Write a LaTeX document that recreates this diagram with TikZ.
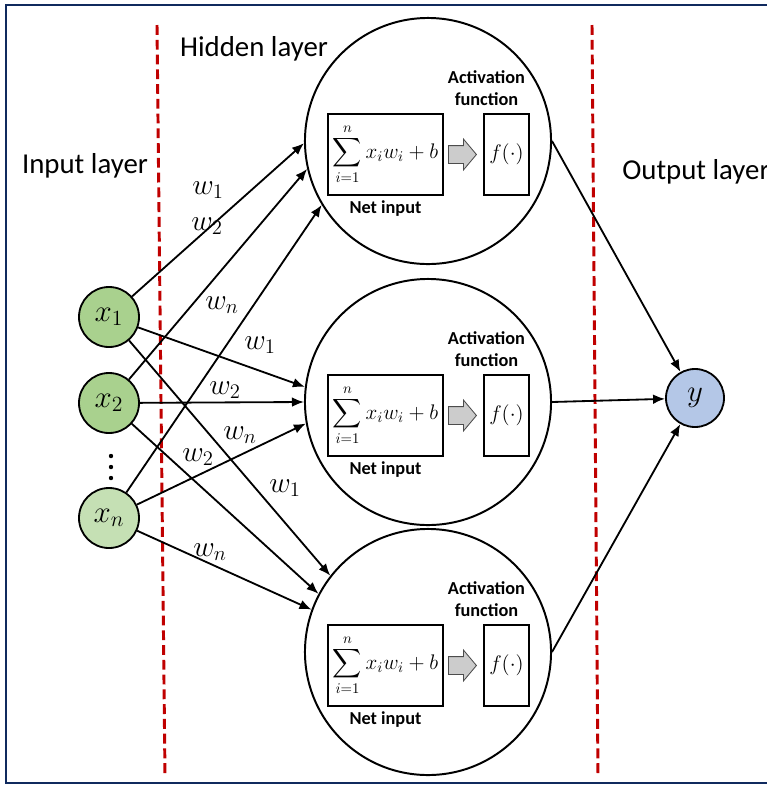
\RequirePackage{fix-cm}
\documentclass[tikz,border=0pt]{standalone}
\usepackage{amsmath}
\usepackage[no-math]{fontspec}
\setmainfont{Carlito}
\usetikzlibrary{positioning, arrows.meta, shapes.arrows}
\definecolor{navy}{RGB}{16,42,94}
\definecolor{dashred}{RGB}{192,0,0}
\definecolor{ingreen}{RGB}{169,209,142}
\definecolor{inlight}{RGB}{197,224,180}
\definecolor{outblue}{RGB}{180,199,231}
\tikzset{
    every node/.style = {align = center},
    layer/.style = {font = \fontsize{20.5}{24}\selectfont, inner sep = 0pt},
    neuron/.style = {circle, draw, line width = 1.3pt, minimum size = 1.5cm, inner sep = 0pt, font = \fontsize{22}{26}\selectfont},
    hidden/.style = {circle, draw, line width = 1.4pt, minimum size = 6.15cm},
    netbox/.style = {draw, line width = 1.4pt, minimum width = 2.875cm, minimum height = 2.025cm, inner sep = 0pt, font = \fontsize{15}{17}\selectfont},
    actbox/.style = {netbox, minimum width = 1.125cm},
    fatarrow/.style = {
        single arrow, draw = black!70, fill = black!20, line width = 0.6pt,
        minimum height = 0.7cm, text height = 0.2125cm, text depth = 0.2125cm,
        single arrow head extend = 0.1625cm, single arrow tip angle = 100,
        inner sep = 0pt
    },
    smalltext/.style = {font = \bfseries\fontsize{13}{15.6}\selectfont, inner sep = 0pt},
    wlabel/.style = {font = \fontsize{21}{24}\selectfont, inner sep = 0pt},
    link/.style = {-{Latex[length = 0.3cm, width = 0.24cm]}, line width = 1.3pt},
    divider/.style = {dashred, line width = 2.1pt, dash pattern = on 7pt off 3.5pt}
}
\begin{document}
\begin{tikzpicture}[x = 0.025cm, y = -0.025cm]
    \useasboundingbox (0,0) rectangle (767,785);
    \clip (0,0) rectangle (767,785);
    \draw [navy, line width = 2.1pt] (6,5) rectangle (800,783);
    % layer dividers
    \draw [divider] (157,25) -- (165,776);
    \draw [divider] (592,25) -- (598,776);
    % layer names
    \node [layer] (inname) at (85,166) {Input layer};
    \node [layer] (hidname) at (254,49) {Hidden layer};
    \node [layer, anchor = west] (outname) at (622,172) {Output layer};
    % inputs
    \node [neuron, fill = ingreen] (x1) at (109,317) {$x_1$};
    \node [neuron, fill = ingreen] (x2) at (109,403) {$x_2$};
    \node [neuron, fill = inlight] (xn) at (109,518) {$x_n$};
    \foreach \d in {456, 467, 478}
        \fill (111,\d) circle (0.055cm);
    % hidden units
    \foreach \i/\cy in {1/141, 2/402, 3/652} {
        \node [hidden] (h\i) at (428,\cy) {};
        \node [netbox] (net\i) at (385.5,\cy+13.5) {$\displaystyle\sum_{i=1}^{n} x_i w_i + b$};
        \node [fatarrow, right = 0.1cm of net\i] (arr\i) {};
        \node [actbox, right = 0.15cm of arr\i] (act\i) {$f(\cdot)$};
        \node [smalltext, above = 0.18cm of act\i, xshift = -0.5cm] (actname\i) {Activation\\function};
        \node [smalltext, below = 0.1cm of net\i] (netname\i) {Net input};
    }
    % output
    \node [neuron, fill = outblue, minimum size = 1.45cm] (y) at (695,398) {$y$};
    % weighted links
    \draw [link] (x1) -- (h1.181);
    \draw [link] (x2) -- (h1.193);
    \draw [link] (xn) -- (h1.211);
    \draw [link] (x1) -- (h2.173);
    \draw [link] (x2) -- (h2.180);
    \draw [link] (xn) -- (h2.190);
    \draw [link] (x1) -- (h3.142);
    \draw [link] (x2) -- (h3.152);
    \draw [link] (xn) -- (h3.160);
    \foreach \j in {1, 2, 3}
        \draw [link] (h\j.east) -- (y);
    % weights
    \node [wlabel] (wa) at (208,190) {$w_1$};
    \node [wlabel] (wb) at (207,226) {$w_2$};
    \node [wlabel] (wc) at (222,305) {$w_n$};
    \node [wlabel] (wd) at (260,345) {$w_1$};
    \node [wlabel] (we) at (225,390) {$w_2$};
    \node [wlabel] (wf) at (240,435) {$w_n$};
    \node [wlabel] (wg) at (198,457) {$w_2$};
    \node [wlabel] (wh) at (285,488) {$w_1$};
    \node [wlabel] (wi) at (210,552) {$w_n$};
\end{tikzpicture}
\end{document}
